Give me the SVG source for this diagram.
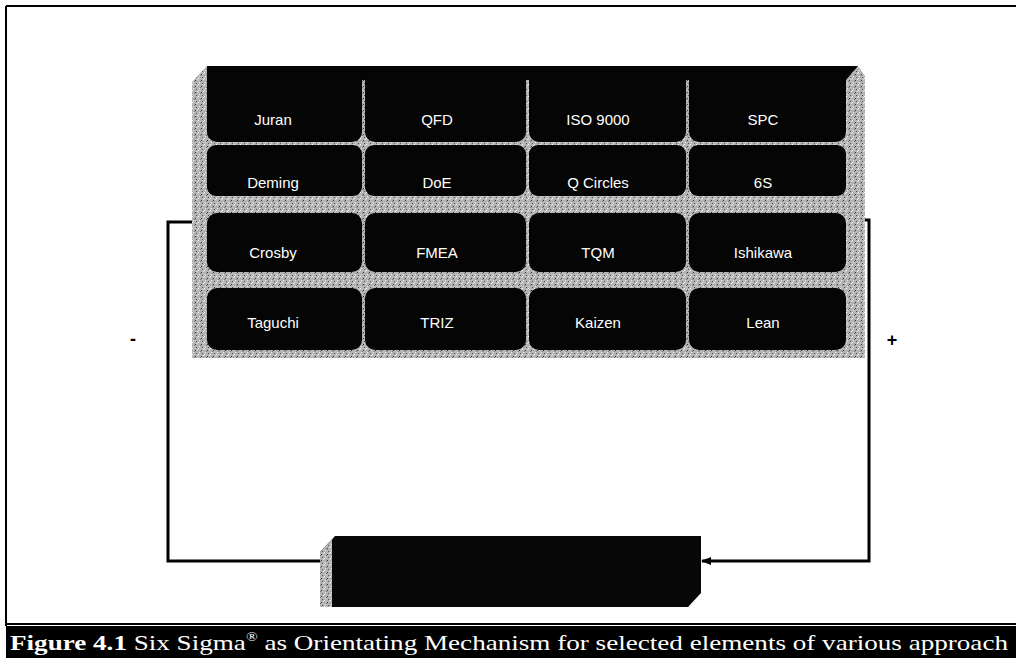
<svg xmlns="http://www.w3.org/2000/svg" width="1016" height="658" viewBox="0 0 1016 658">
<defs>
<pattern id="speck" width="6" height="6" patternUnits="userSpaceOnUse">
<rect width="6" height="6" fill="#b4b4b4"/>
<rect x="0" y="0" width="1" height="1" fill="#fff"/>
<rect x="3" y="2" width="1" height="1" fill="#333"/>
<rect x="1" y="4" width="1" height="1" fill="#eee"/>
<rect x="4" y="5" width="1" height="1" fill="#555"/>
<rect x="5" y="1" width="1" height="1" fill="#ddd"/>
<rect x="2" y="3" width="1" height="1" fill="#777"/>
</pattern>
<marker id="arr" markerWidth="10" markerHeight="8" refX="9" refY="4" orient="auto" markerUnits="userSpaceOnUse">
<path d="M0,0 L10,4 L0,8 z" fill="#000"/>
</marker>
<style>
.cell{fill:#050505}
.lbl{font-family:"Liberation Sans",Arial,sans-serif;font-size:15px;fill:#fff;text-anchor:middle}
.conn{fill:none;stroke:#000;stroke-width:3}
.sign{font-family:"Liberation Sans",Arial,sans-serif;font-size:18px;font-weight:bold;fill:#000;text-anchor:middle}
</style>
</defs>
<rect width="1016" height="658" fill="#fff"/>
<!-- frame -->
<path d="M6,6 H1016 M6,6 V626" stroke="#000" stroke-width="2" fill="none"/>
<line x1="6" y1="624" x2="1016" y2="624" stroke="#000" stroke-width="2"/>

<!-- connectors -->
<g id="connectors">
<path class="conn" d="M193,222 H168 V561 H322"/>
<path class="conn" d="M862,220 H869 V561 H702" marker-end="url(#arr)"/>
<text class="sign" x="133" y="345">-</text>
<text class="sign" x="892" y="346">+</text>
</g>

<!-- panel -->
<g id="panel">
<path d="M207,66 H858 L865,76 V358 H192 V82 Z" fill="url(#speck)"/>
<path d="M207,66 H858 L846,80 H207 Z" fill="#050505"/>
</g>
<g id="n-juran"><rect class="cell" x="207" y="70" width="155" height="72" rx="10"/><text class="lbl" x="273" y="125">Juran</text></g>
<g id="n-qfd"><rect class="cell" x="365" y="70" width="161" height="72" rx="10"/><text class="lbl" x="437" y="125">QFD</text></g>
<g id="n-iso"><rect class="cell" x="529" y="70" width="157" height="72" rx="10"/><text class="lbl" x="598" y="125">ISO 9000</text></g>
<g id="n-spc"><rect class="cell" x="689" y="70" width="157" height="72" rx="10"/><text class="lbl" x="763" y="125">SPC</text></g>

<g id="n-deming"><rect class="cell" x="207" y="145" width="155" height="51" rx="9"/><text class="lbl" x="273" y="188">Deming</text></g>
<g id="n-doe"><rect class="cell" x="365" y="145" width="161" height="51" rx="9"/><text class="lbl" x="437" y="188">DoE</text></g>
<g id="n-qcircles"><rect class="cell" x="529" y="145" width="157" height="51" rx="9"/><text class="lbl" x="598" y="188">Q Circles</text></g>
<g id="n-6s"><rect class="cell" x="689" y="145" width="157" height="51" rx="9"/><text class="lbl" x="763" y="188">6S</text></g>

<g id="n-crosby"><rect class="cell" x="207" y="213" width="155" height="59" rx="10"/><text class="lbl" x="273" y="258">Crosby</text></g>
<g id="n-fmea"><rect class="cell" x="365" y="213" width="161" height="59" rx="10"/><text class="lbl" x="437" y="258">FMEA</text></g>
<g id="n-tqm"><rect class="cell" x="529" y="213" width="157" height="59" rx="10"/><text class="lbl" x="598" y="258">TQM</text></g>
<g id="n-ishikawa"><rect class="cell" x="689" y="213" width="157" height="59" rx="10"/><text class="lbl" x="763" y="258">Ishikawa</text></g>

<g id="n-taguchi"><rect class="cell" x="207" y="288" width="155" height="62" rx="10"/><text class="lbl" x="273" y="328">Taguchi</text></g>
<g id="n-triz"><rect class="cell" x="365" y="288" width="161" height="62" rx="10"/><text class="lbl" x="437" y="328">TRIZ</text></g>
<g id="n-kaizen"><rect class="cell" x="529" y="288" width="157" height="62" rx="10"/><text class="lbl" x="598" y="328">Kaizen</text></g>
<g id="n-lean"><rect class="cell" x="689" y="288" width="157" height="62" rx="10"/><text class="lbl" x="763" y="328">Lean</text></g>

<!-- bottom box -->
<g id="n-sixsigma">
<path d="M335,536 H701 V593 L688,607 H320 V552 Z" fill="#080808"/>
<path d="M335,536 L320,552 V607 H332 V540 Z" fill="url(#speck)"/>
</g>

<!-- caption -->
<g id="caption">
<rect x="6" y="626" width="1010" height="32" fill="#000"/>
<text x="10" y="650" font-family="'Liberation Serif','Times New Roman',serif" font-size="21" fill="#fff" textLength="998" lengthAdjust="spacingAndGlyphs"><tspan font-weight="bold">Figure 4.1</tspan> Six Sigma<tspan font-size="12" dy="-9">®</tspan><tspan dy="9"> as Orientating Mechanism for selected elements of various approach</tspan></text>
</g>
</svg>
